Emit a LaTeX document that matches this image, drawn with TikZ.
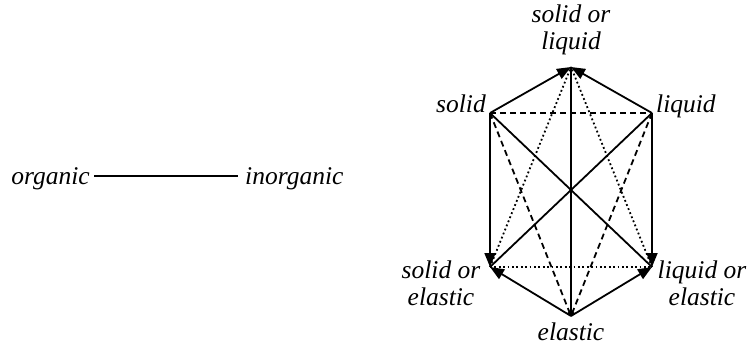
\documentclass[tikz,border=0pt]{standalone}
\usepackage{fontspec}
\setmainfont{Liberation Serif}
\usetikzlibrary{arrows.meta}
\begin{document}
\begin{tikzpicture}[x=1pt,y=-1pt,
  lbl/.style={inner sep=0pt,font=\fontsize{25.5}{27}\selectfont\itshape,align=center},
  edge/.style={line width=1.8pt},
  dsh/.style={edge,dash pattern=on 6pt off 4pt},
  dtd/.style={edge,dash pattern=on 1.8pt off 2.6pt},
  arr/.style={-{Triangle[length=14pt,width=11pt]}},
  thinarr/.style={-{To[length=4pt,width=7pt]}}]
\useasboundingbox (0,0) rectangle (749,350);
% left part
\node[lbl,anchor=base east] (org) at (90,184) {organic};
\node[lbl,anchor=base west] (inorg) at (245,184) {inorganic};
\draw[edge] ([xshift=4pt]org.east |- 0,176) coordinate (o1) -- ([xshift=-7pt]inorg.west |- 0,176) coordinate (o2);
% vertices
\coordinate (T) at (571,67);
\coordinate (S) at (490,113);
\coordinate (L) at (652,113);
\coordinate (SE) at (490,267);
\coordinate (LE) at (652,267);
\coordinate (E) at (571,316);
% labels
\node[lbl,anchor=base] (tl) at (571,50) {solid or\\liquid};
\node[lbl,anchor=base east] (sl) at (486,113) {solid};
\node[lbl,anchor=base west] (ll) at (656,113) {liquid};
\node[lbl,anchor=base] (sel) at (441,305) {solid or\\elastic};
\node[lbl,anchor=base] (lel) at (702,305) {liquid or\\elastic};
\node[lbl,anchor=base] (el) at (571,340) {elastic};
% edges
\draw[dsh] (S) -- (L);
\draw[dtd] (SE) -- (LE);
\draw[dsh] (S) -- (E);
\draw[dsh] (L) -- (E);
\draw[dtd] (SE) -- (T);
\draw[dtd] (LE) -- (T);
\draw[edge] (S) -- (LE);
\draw[edge] (L) -- (SE);
\draw[edge,thinarr] (T) -- (E);
\draw[edge,arr] (S) -- (T);
\draw[edge,arr] (L) -- (T);
\draw[edge,arr] (S) -- (SE);
\draw[edge,arr] (L) -- (LE);
\draw[edge,arr] (E) -- (SE);
\draw[edge,arr] (E) -- (LE);
\end{tikzpicture}
\end{document}
